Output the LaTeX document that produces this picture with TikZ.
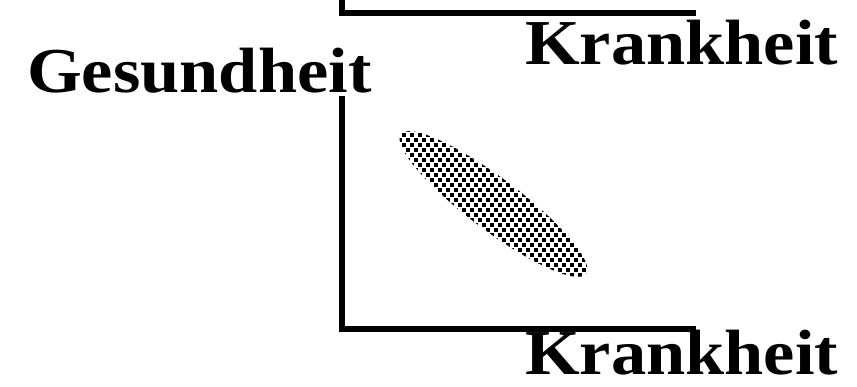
\documentclass[tikz,border=0pt]{standalone}
\usepackage{fontspec}
\setmainfont{Liberation Serif}
\usetikzlibrary{positioning}

\tikzset{
  bigword/.style={font=\fontsize{64}{70}\selectfont\bfseries, inner sep=0pt, anchor=base west},
  bracket/.style={line width=6.5pt, line join=miter},
  grain/.style={fill=black},
}
\newcommand{\wide}[1]{\scalebox{1.1}[1]{#1}}

\begin{document}
\begin{tikzpicture}[x=1pt, y=1pt]
\useasboundingbox (0,0) rectangle (857,386);

\node[bigword] (ges) at (27,293) {\wide{Gesundheit}};
\node[bigword] (krankA) at (525,321) {\wide{Krankheit}};
\node[bigword] (krankB) at (525,11.5) {\wide{Krankheit}};

% brackets
\coordinate (topA) at (342,386);
\coordinate (cornA) at (342,373);
\coordinate (endA) at (696,373);
\coordinate (topB) at (342,290);
\coordinate (cornB) at (342,57);
\coordinate (endB) at (696,57);
\draw[bracket] (topA) -- (cornA) -- (endA);
\draw[bracket] (topB) -- (cornB) -- (endB);

% dotted cloud
\begin{scope}
  \clip[shift={(493.5,182)}, rotate=-37] (0,0) ellipse [x radius=116pt, y radius=26pt];
  \foreach \j [evaluate=\j as \yy using {96+5*\j}, evaluate=\j as \off using {mod(\j,2)*4}] in {0,...,36}
    \foreach \i in {0,...,26}
      \fill[grain] ({390.3+8*\i+\off},{\yy-1.7}) rectangle ++(3.4,3.4);
\end{scope}
\end{tikzpicture}
\end{document}
